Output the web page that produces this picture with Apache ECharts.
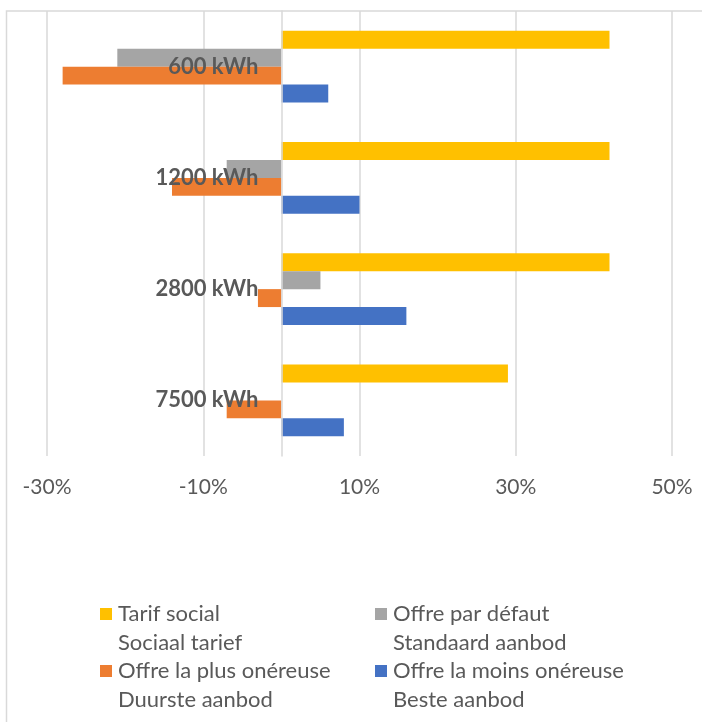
<!DOCTYPE html>
<html>
<head>
<meta charset="utf-8">
<script src="https://cdn.jsdelivr.net/npm/echarts@6/dist/echarts.min.js"></script>
<style>
  html, body { margin: 0; padding: 0; background: #fff; }
  #chart { width: 702px; height: 722px; }
</style>
</head>
<body>
<div id="chart"></div>
<script>
// Consumption profiles (top to bottom)
const categories = ['600 kWh', '1200 kWh', '2800 kWh', '7500 kWh'];

// Series names (French) and their Dutch translation shown on a second legend line
const seriesNames = ['Tarif social', 'Offre par défaut', 'Offre la plus onéreuse', 'Offre la moins onéreuse'];
const seriesNamesNl = ['Sociaal tarief', 'Standaard aanbod', 'Duurste aanbod', 'Beste aanbod'];

// Difference in %, one value per consumption profile
const tarifSocial = [42, 42, 42, 29];
const offreParDefaut = [-21, -7, 5, 0];
const offrePlusOnereuse = [-28, -14, -3, -7];
const offreMoinsOnereuse = [6, 10, 16, 8];

// Value-axis ticks
const xMin = -30;
const xMax = 50;
const xStep = 20;

const colors = ['#FFC000', '#A5A5A5', '#ED7D31', '#4472C4'];
const seriesData = [tarifSocial, offreParDefaut, offrePlusOnereuse, offreMoinsOnereuse];

const FONT = 'Lato, "Open Sans", sans-serif';
const TEXT = '#595959';
const LINE = '#D9D9D9';

// Plot area edges in pixels
const GRID_LEFT = 47;
const GRID_RIGHT = 30;
const GRID_TOP = 11;
const GRID_BOTTOM = 266;

// Legend marker: square on top, invisible point below to line it up with the first text line
const legendIcon = 'path://M0,0h12v12h-12z M0,40.9h0.01v0.01h-0.01z';

const chart = echarts.init(document.getElementById('chart'), null, { renderer: 'canvas' });

const legendCommon = {
  orient: 'vertical',
  icon: legendIcon,
  itemWidth: 12,
  itemHeight: 41,
  itemGap: 0,
  padding: 0,
  selectedMode: false,
  formatter: name => name + '\n' + seriesNamesNl[seriesNames.indexOf(name)],
  textStyle: {
    fontFamily: FONT,
    fontSize: 22,
    lineHeight: 28.5,
    color: TEXT,
    padding: [0, 0, 0, 1]
  }
};

// Category labels sit just left of the zero line
const zeroX = GRID_LEFT + (0 - xMin) / (xMax - xMin) * (702 - GRID_LEFT - GRID_RIGHT);

chart.setOption({
  animation: false,
  backgroundColor: '#fff',
  color: colors,
  graphic: [{
    type: 'rect',
    silent: true,
    shape: { x: 6.5, y: 11, width: 800, height: 800 },
    style: { fill: 'none', stroke: LINE, lineWidth: 1.5 },
    z: -10
  }],
  grid: {
    left: GRID_LEFT, right: GRID_RIGHT, top: GRID_TOP, bottom: GRID_BOTTOM,
    containLabel: false,
    outerBoundsMode: 'none'
  },
  legend: [
    Object.assign({}, legendCommon, { left: 100, top: 600, data: [seriesNames[0], seriesNames[2]] }),
    Object.assign({}, legendCommon, { left: 375, top: 600, data: [seriesNames[1], seriesNames[3]] })
  ],
  xAxis: {
    type: 'value',
    min: xMin,
    max: xMax,
    interval: xStep,
    axisLine: { show: false },
    axisTick: { show: false },
    splitLine: { show: true, lineStyle: { color: LINE, width: 1.5 } },
    axisLabel: {
      formatter: v => v + '%',
      color: TEXT,
      fontFamily: FONT,
      fontSize: 21,
      margin: 21
    }
  },
  yAxis: {
    type: 'category',
    data: categories,
    inverse: true,
    z: 10,
    axisLine: { show: true, onZero: true, lineStyle: { color: LINE, width: 1.5 } },
    axisTick: { show: false },
    splitLine: { show: false },
    axisLabel: {
      color: TEXT,
      fontFamily: FONT,
      fontWeight: 'bold',
      fontSize: 22,
      align: 'right',
      margin: GRID_LEFT - (zeroX - 23)
    }
  },
  series: seriesNames.map((name, i) => ({
    name: name,
    type: 'bar',
    data: seriesData[i],
    barGap: '0%',
    barCategoryGap: '35.5%',
    itemStyle: { color: colors[i] },
    z: 2
  }))
});
</script>
</body>
</html>
